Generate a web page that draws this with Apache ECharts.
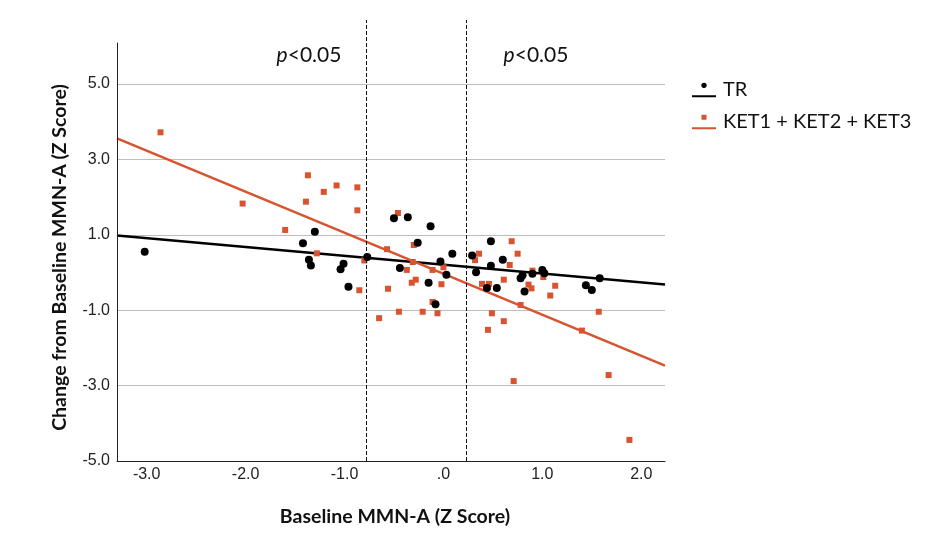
<!DOCTYPE html>
<html lang="en">
  <head>
    <meta charset="UTF-8" />
    <title>Baseline MMN-A vs change</title>
    <script src="https://cdn.jsdelivr.net/npm/echarts@6/dist/echarts.min.js"></script>
    <style>
      html, body { margin: 0; padding: 0; background: #fff; }
      #chart { width: 947px; height: 534px; }
    </style>
  </head>
  <body>
    <div id="chart"></div>
    <script>
      // axis ticks
      var xTicks = [-3, -2, -1, 0, 1, 2];
      var yTicks = [-5, -3, -1, 1, 3, 5];
      var xRange = [-3.3, 2.24];
      // plot area reaches above the y axis line so the dashed cut-offs stick out
      var yRange = [-5, 6.7];
      var yAxisTop = 6.1;
      // dashed cut-offs
      var cutLines = [-0.78, 0.23];

      var seriesNames = ["TR", "KET1 + KET2 + KET3"];

      // TR group (black dots)
      var trPoints = [
        [-3.02, 0.55], [-1.30, 1.08], [-1.42, 0.78], [-1.36, 0.34], [-1.34, 0.19],
        [-1.01, 0.23], [-1.04, 0.09], [-0.96, -0.38], [-0.77, 0.41], [-0.50, 1.44],
        [-0.36, 1.47], [-0.13, 1.23], [-0.26, 0.79], [-0.44, 0.12], [-0.03, 0.29],
        [0.09, 0.50], [0.03, -0.06], [-0.15, -0.27], [-0.08, -0.84], [0.29, 0.45],
        [0.33, 0.01], [0.48, 0.83], [0.48, 0.18], [0.44, -0.41], [0.54, -0.41],
        [0.60, 0.34], [0.78, -0.15], [0.80, -0.07], [0.82, -0.50], [0.90, -0.03],
        [1.00, 0.07], [1.02, -0.02], [1.44, -0.34], [1.50, -0.46], [1.58, -0.15]
      ];

      // KET groups (orange squares)
      var ketPoints = [
        [-2.86, 3.72], [-2.03, 1.83], [-1.37, 2.58], [-1.39, 1.88], [-1.21, 2.14],
        [-1.08, 2.31], [-0.87, 2.26], [-0.87, 1.65], [-1.60, 1.13], [-1.28, 0.51],
        [-0.80, 0.32], [-0.85, -0.47], [-0.65, -1.21], [-0.46, 1.58], [-0.57, 0.62],
        [-0.56, -0.43], [-0.45, -1.04], [-0.37, 0.07], [-0.30, 0.73], [-0.31, 0.28],
        [-0.28, -0.19], [-0.32, -0.27], [-0.21, -1.04], [-0.11, -0.78], [-0.06, -1.08],
        [-0.11, 0.07], [0.00, 0.14], [-0.02, -0.31], [0.36, 0.50], [0.32, 0.33],
        [0.39, -0.30], [0.46, -0.30], [0.49, -1.08], [0.45, -1.52], [0.61, -0.19],
        [0.61, -1.29], [0.69, 0.83], [0.75, 0.50], [0.67, 0.20], [0.71, -2.88],
        [0.78, -0.86], [0.86, -0.32], [0.89, -0.42], [0.90, 0.05], [1.01, -0.12],
        [1.13, -0.35], [1.08, -0.61], [1.40, -1.54], [1.57, -1.04], [1.67, -2.72],
        [1.88, -4.44]
      ];

      // fit lines, read at the two ends of the x axis
      var trFit = [[-3.3, 0.98], [2.24, -0.32]];
      var ketFit = [[-3.3, 3.56], [2.24, -2.47]];

      var black = "#000000";
      var orange = "#d8532f";

      function tickText(v, list) {
        var r = Math.round(v * 100) / 100;
        if (list.indexOf(r) < 0) return "";
        if (r === 0) return ".0";
        return r.toFixed(1);
      }

      function pLabel(x) {
        return {
          type: "text",
          x: x,
          y: 55,
          style: {
            text: "{i|p}<0.05",
            textAlign: "center",
            textVerticalAlign: "middle",
            fontFamily: "Lato",
            fontSize: 21,
            fill: "#111",
            rich: { i: { fontStyle: "italic", fontFamily: "Lato", fontSize: 21 } }
          }
        };
      }

      var chart = echarts.init(document.getElementById("chart"));
      var option = {
        animation: false,
        backgroundColor: "#fff",
        grid: { left: 117, right: 282, top: 20, bottom: 73 },
        legend: {
          orient: "vertical",
          left: 687,
          top: 75,
          itemWidth: 24,
          itemHeight: 15,
          itemGap: 12,
          selectedMode: false,
          textStyle: {
            fontFamily: "Lato",
            fontSize: 20,
            color: "#111",
            padding: [0, 0, 0, 2]
          },
          data: [
            {
              name: seriesNames[0],
              icon: "path://M0,14 L24,14 L24,16 L0,16 Z M9.3,4 A2.7,2.7 0 1 1 14.7,4 A2.7,2.7 0 1 1 9.3,4 Z"
            },
            {
              name: seriesNames[1],
              icon: "path://M0,14 L24,14 L24,16 L0,16 Z M9.5,1.5 L14.5,1.5 L14.5,6.5 L9.5,6.5 Z"
            }
          ]
        },
        graphic: [pLabel(309), pLabel(536)],
        xAxis: {
          type: "value",
          min: xRange[0],
          max: xRange[1],
          name: "Baseline MMN-A (Z Score)",
          nameLocation: "middle",
          nameGap: 46,
          nameTextStyle: {
            fontFamily: "Lato",
            fontWeight: "bold",
            fontSize: 19.5,
            color: "#111",
            padding: [0, 0, 0, 8]
          },
          axisLine: { onZero: false, lineStyle: { color: "#222", width: 1 } },
          axisTick: { show: false },
          splitLine: { show: false },
          axisLabel: {
            margin: 6,
            fontFamily: "Liberation Sans",
            fontSize: 16,
            color: "#222",
            formatter: function (v) { return tickText(v, xTicks); }
          }
        },
        yAxis: {
          type: "value",
          min: yRange[0],
          max: yRange[1],
          interval: 2,
          name: "Change from Baseline MMN-A (Z Score)",
          nameLocation: "middle",
          nameGap: 47,
          nameTextStyle: {
            fontFamily: "Lato",
            fontWeight: "bold",
            fontSize: 19.5,
            color: "#111",
            padding: [0, 34, 0, 0]
          },
          axisLine: { show: false, onZero: false },
          axisTick: { show: false },
          splitLine: { show: true, showMaxLine: false, lineStyle: { color: "#bdbdbd", width: 1 } },
          axisLabel: {
            margin: 7,
            fontFamily: "Liberation Sans",
            fontSize: 16,
            color: "#222",
            formatter: function (v) { return tickText(v, yTicks); }
          }
        },
        series: [
          {
            name: seriesNames[0],
            type: "scatter",
            symbol: "circle",
            symbolSize: 8,
            itemStyle: { color: black, opacity: 1 },
            data: trPoints,
            z: 4
          },
          {
            name: seriesNames[1],
            type: "scatter",
            symbol: "rect",
            symbolSize: 6,
            itemStyle: { color: orange, opacity: 1 },
            data: ketPoints,
            z: 3
          },
          {
            name: seriesNames[0],
            type: "line",
            showSymbol: false,
            symbol: "none",
            lineStyle: { color: black, width: 2.5 },
            itemStyle: { color: black },
            data: trFit,
            z: 2,
            markLine: {
              silent: true,
              symbol: "none",
              label: { show: false },
              lineStyle: { color: "#111", type: [4, 2], width: 1 },
              data: cutLines.map(function (c) { return { xAxis: c }; }).concat([
                // y axis line, stopping below the top of the plot area
                [
                  { coord: [xRange[0], yRange[0]], lineStyle: { type: "solid", color: "#222" } },
                  { coord: [xRange[0], yAxisTop] }
                ]
              ])
            }
          },
          {
            name: seriesNames[1],
            type: "line",
            showSymbol: false,
            symbol: "none",
            lineStyle: { color: orange, width: 2.5 },
            itemStyle: { color: orange },
            data: ketFit,
            z: 2
          }
        ]
      };
      chart.setOption(option);
    </script>
  </body>
</html>
